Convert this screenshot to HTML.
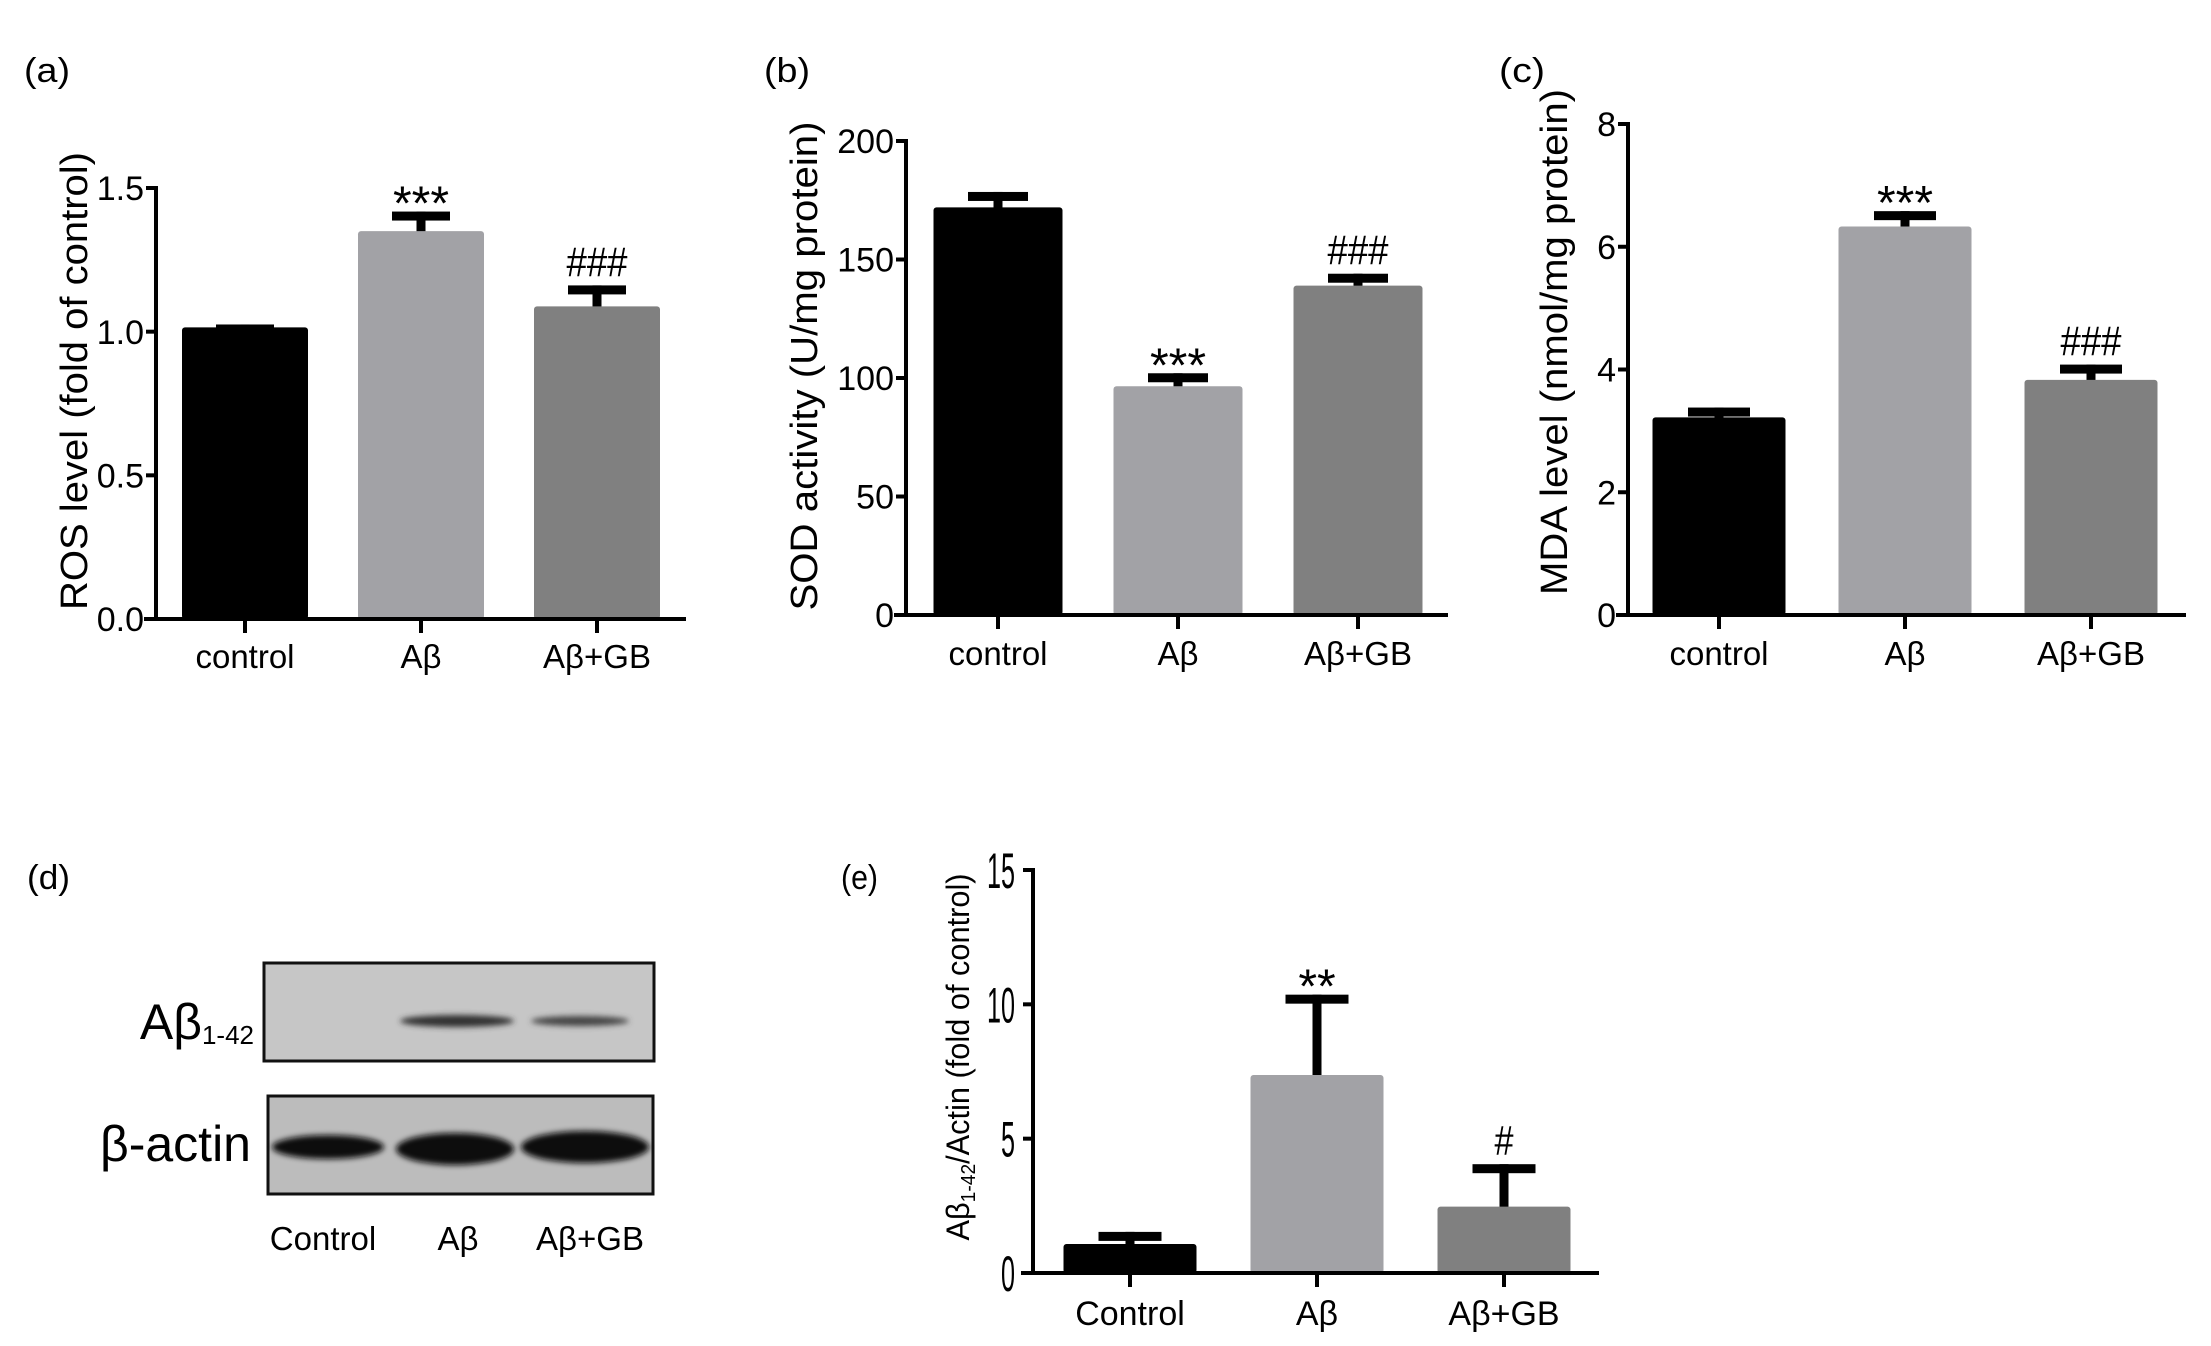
<!DOCTYPE html>
<html><head><meta charset="utf-8"><style>
html,body{margin:0;padding:0;background:#fff;}
svg{display:block;font-family:"Liberation Sans",sans-serif;}
</style></head><body>
<svg id="fig" width="2211" height="1346" viewBox="0 0 2211 1346" xmlns="http://www.w3.org/2000/svg">
<defs><filter id="blur" x="-20%" y="-100%" width="140%" height="300%"><feGaussianBlur stdDeviation="3"/></filter></defs>
<rect width="2211" height="1346" fill="#fff"/>
<g id="labels" font-size="34" fill="#000">
<text x="24" y="82" textLength="46" lengthAdjust="spacingAndGlyphs">(a)</text>
<text x="764" y="82" textLength="46" lengthAdjust="spacingAndGlyphs">(b)</text>
<text x="1499" y="82" textLength="46" lengthAdjust="spacingAndGlyphs">(c)</text>
<text x="27" y="889" textLength="43" lengthAdjust="spacingAndGlyphs">(d)</text>
<text x="841" y="889" textLength="37" lengthAdjust="spacingAndGlyphs">(e)</text>
</g>
<g id="blot">
<rect x="264" y="963" width="390" height="98" fill="#c6c6c6" stroke="#111" stroke-width="3"/>
<ellipse cx="457" cy="1021" rx="57" ry="6" fill="#333" filter="url(#blur)"/>
<ellipse cx="580" cy="1021" rx="49" ry="5" fill="#444" filter="url(#blur)"/>
<rect x="268" y="1096" width="385" height="98" fill="#bcbcbc" stroke="#111" stroke-width="3"/>
<ellipse cx="328" cy="1147" rx="56" ry="12" fill="#111" filter="url(#blur)"/>
<ellipse cx="455" cy="1149" rx="59" ry="16" fill="#0a0a0a" filter="url(#blur)"/>
<ellipse cx="585" cy="1147" rx="64" ry="16" fill="#0a0a0a" filter="url(#blur)"/>
<text x="254" y="1039" font-size="50" text-anchor="end">Aβ<tspan font-size="26" dy="5">1-42</tspan></text>
<text x="251" y="1161" font-size="50" text-anchor="end">β-actin</text>
<text x="323" y="1250" font-size="33" text-anchor="middle">Control</text>
<text x="458" y="1250" font-size="33" text-anchor="middle">Aβ</text>
<text x="590" y="1250" font-size="33" text-anchor="middle">Aβ+GB</text>
</g>
</svg>
<script>
// Panel (a) ROS
const catsA = ["control", "Aβ", "Aβ+GB"];
const valsA = [1.015, 1.35, 1.088];
const errA = [1.025, 1.418, 1.161];
const ticksA = [0, 0.5, 1.0, 1.5];
const tickLabelsA = ["0.0", "0.5", "1.0", "1.5"];
const sigA = ["", "***", "###"];
// Panel (b) SOD
const catsB = ["control", "Aβ", "Aβ+GB"];
const valsB = [172, 96.5, 139];
const errB = [178.5, 102, 144];
const ticksB = [0, 50, 100, 150, 200];
const tickLabelsB = ["0", "50", "100", "150", "200"];
const sigB = ["", "***", "###"];
// Panel (c) MDA
const catsC = ["control", "Aβ", "Aβ+GB"];
const valsC = [3.22, 6.33, 3.83];
const errC = [3.38, 6.58, 4.08];
const ticksC = [0, 2, 4, 6, 8];
const tickLabelsC = ["0", "2", "4", "6", "8"];
const sigC = ["", "***", "###"];
// Panel (e) Abeta/actin
const catsE = ["Control", "Aβ", "Aβ+GB"];
const valsE = [1.08, 7.37, 2.47];
const errE = [1.53, 10.36, 4.05];
const ticksE = [0, 5, 10, 15];
const tickLabelsE = ["0", "5", "10", "15"];
const sigE = ["", "**", "#"];

const colors = ["#000000", "#a2a2a6", "#808080"];
const NS = "http://www.w3.org/2000/svg";
const svg = document.getElementById("fig");
function mk(tag, attrs, parent) {
  const el = document.createElementNS(NS, tag);
  for (const k in attrs) el.setAttribute(k, attrs[k]);
  (parent || svg).appendChild(el);
  return el;
}
function panel(p, cats, vals, errs, ticks, tlabels, sigs) {
  const g = mk("g", {});
  
  
  const y = v => p.y0 - (v - p.vmin) / (p.vmax - p.vmin) * (p.y0 - p.y1);
  const bw = p.barW, slot = p.slot;
  cats.forEach((c, i) => {
    const cx = p.firstX + i * slot;
    const top = y(vals[i]), et = y(errs[i]);
    const st = mk("rect", {x: cx - 4.5, y: et, width: 9, height: top - et + 4, fill: "#000"}, g);
    
    
    const b = mk("rect", {x: cx - bw / 2, y: top, width: bw, height: p.y0 - top, fill: colors[i], rx: 3}, g);
    
    
    const cap = mk("rect", {x: cx - p.capW / 2, y: et, width: p.capW, height: 9, fill: "#000"}, g);
    
    
    if (sigs[i]) {
      const isHash = sigs[i][0] === "#";
      const t = mk("text", {x: cx, y: isHash ? et - 9 : et + 8, "text-anchor": "middle", "font-size": isHash ? 42 : 48}, g);
      if (isHash) { t.setAttribute("textLength", 19 * sigs[i].length + (sigs[i].length > 1 ? 4 : 0)); t.setAttribute("lengthAdjust", "spacingAndGlyphs"); }
      t.textContent = sigs[i];
      
      
    }
    const tk = mk("line", {x1: cx, x2: cx, y1: p.y0, y2: p.y0 + 14, stroke: "#000", "stroke-width": 4}, g);
    
    
    const lb = mk("text", {x: cx, y: p.catY, "text-anchor": "middle", "font-size": p.catFont}, g);
    lb.textContent = c;
    
    
  });
  const ax = mk("line", {x1: p.ax, x2: p.ax, y1: p.y1 - 2, y2: p.y0 + 2, stroke: "#000", "stroke-width": 4}, g);
  
  
  const xx = mk("line", {x1: p.ax - 12, x2: p.xEnd, y1: p.y0, y2: p.y0, stroke: "#000", "stroke-width": 4}, g);
  
  
  ticks.forEach((v, i) => {
    const ty = y(v);
    const tl = mk("line", {x1: p.ax - 10, x2: p.ax, y1: ty, y2: ty, stroke: "#000", "stroke-width": 4}, g);
    
    
    const t = mk("text", {x: p.ax - p.tickGap, y: ty + p.tickFont * 0.36, "text-anchor": "end", "font-size": p.tickFont}, g);
    if (p.tickCond) { t.setAttribute("textLength", 14 * tlabels[i].length); t.setAttribute("lengthAdjust", "spacingAndGlyphs"); }
    t.textContent = tlabels[i];
    
    
  });
  const tt = mk("text", {x: 0, y: 0, "text-anchor": "middle", "font-size": p.titleFont, transform: "translate(" + p.titleX + "," + p.titleY + ") rotate(-90)", textLength: p.titleLen, lengthAdjust: "spacingAndGlyphs"}, g);
  if (p.sub) {
    tt.appendChild(document.createTextNode("Aβ"));
    const s = mk("tspan", {"font-size": 20, dy: 6}, tt);
    s.textContent = "1-42";
    const r = mk("tspan", {dy: -6}, tt);
    r.textContent = "/Actin (fold of control)";
  } else tt.textContent = p.title;
  
  
}
panel({name: "ros-chart", ax: 156, y0: 619, y1: 188, vmin: 0, vmax: 1.5, firstX: 245, slot: 176, barW: 126, capW: 58, xEnd: 686, catY: 668, catFont: 33, tickFont: 34, tickGap: 12, titleX: 87, titleY: 381, titleFont: 38, titleLen: 458, title: "ROS level (fold of control)"}, catsA, valsA, errA, ticksA, tickLabelsA, sigA);
panel({name: "sod-chart", ax: 906, y0: 615, y1: 141, vmin: 0, vmax: 200, firstX: 998, slot: 180, barW: 129, capW: 60, xEnd: 1448, catY: 665, catFont: 33, tickFont: 34, tickGap: 12, titleX: 817, titleY: 366, titleFont: 38, titleLen: 489, title: "SOD activity (U/mg protein)"}, catsB, valsB, errB, ticksB, tickLabelsB, sigB);
panel({name: "mda-chart", ax: 1628, y0: 615, y1: 124, vmin: 0, vmax: 8, firstX: 1719, slot: 186, barW: 133, capW: 62, xEnd: 2186, catY: 665, catFont: 33, tickFont: 34, tickGap: 12, titleX: 1567, titleY: 342, titleFont: 38, titleLen: 506, title: "MDA level (nmol/mg protein)"}, catsC, valsC, errC, ticksC, tickLabelsC, sigC);
panel({name: "abeta-actin-chart", ax: 1033, y0: 1273, y1: 870, vmin: 0, vmax: 15, firstX: 1130, slot: 187, barW: 133, capW: 63, xEnd: 1599, catY: 1325, catFont: 34, tickFont: 50, tickGap: 18, tickCond: true, titleX: 969, titleY: 1057, titleFont: 32, titleLen: 367, sub: true}, catsE, valsE, errE, ticksE, tickLabelsE, sigE);
</script>
</body></html>
